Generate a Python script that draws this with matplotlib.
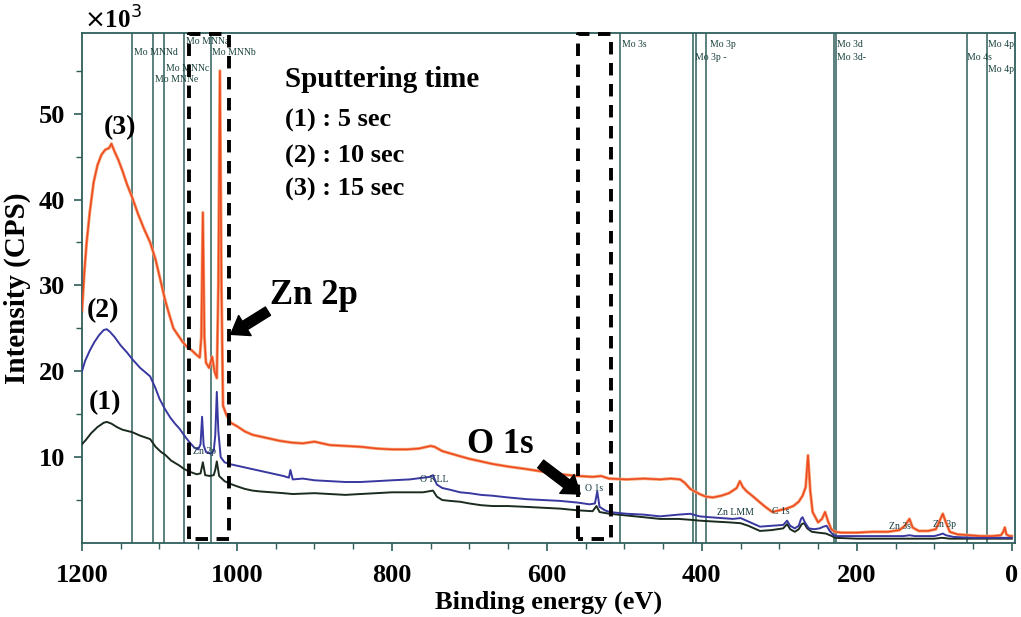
import matplotlib
matplotlib.use("Agg")
import matplotlib.pyplot as plt
from matplotlib.ticker import MultipleLocator

plt.rcParams['font.family'] = ['Liberation Serif', 'DejaVu Serif']

# spectra, binding energy (eV) vs intensity (x10^3 CPS)
e3 = [1200, 1197, 1194, 1190, 1185, 1180, 1175, 1170, 1165, 1162, 1158, 1153, 1148, 1142, 1135,
      1128, 1120, 1112, 1105, 1099, 1093, 1088, 1082, 1076, 1070, 1064, 1058, 1052, 1048, 1046,
      1044, 1042, 1040, 1036, 1032, 1029, 1026, 1024, 1022, 1020, 1018, 1014, 1008, 1000, 990,
      980, 970, 960, 945, 930, 915, 900, 880, 860, 840, 820, 800, 780, 765, 750, 745, 735, 720,
      712, 700, 685, 670, 650, 626, 605, 583, 560, 541, 530, 520, 497, 475, 454, 440, 428, 422,
      415, 403, 395, 386, 375, 365, 355, 351, 347, 342, 335, 326, 318, 309, 300, 291, 282, 275,
      270, 266, 263, 260, 257, 250, 245, 241, 237, 233, 228, 220, 200, 180, 160, 145, 138, 132,
      128, 120, 108, 98, 93, 89, 85, 80, 70, 55, 40, 25, 14, 11, 9, 7, 3, 0]
i3 = [27.0, 31.5, 35.0, 38.5, 42.0, 44.0, 45.2, 45.8, 46.0, 46.5, 45.6, 44.6, 43.4, 41.8, 40.2,
      38.4, 36.6, 35.0, 33.0, 30.7, 28.4, 26.8, 25.0, 24.2, 23.4, 22.8, 22.4, 21.9, 21.6, 24.0,
      38.5, 24.0, 21.0, 20.4, 21.7, 20.0, 19.2, 30.0, 55.0, 30.0, 16.0, 15.0, 14.0, 13.6, 13.0,
      12.6, 12.4, 12.2, 11.9, 11.7, 11.6, 11.8, 11.4, 11.3, 11.2, 11.0, 10.9, 10.9, 11.0, 11.3,
      11.2, 10.7, 10.3, 10.1, 9.8, 9.5, 9.2, 8.9, 8.6, 8.3, 8.0, 7.8, 7.7, 7.8, 7.5, 7.4, 7.5,
      7.4, 7.5, 7.4, 7.0, 6.3, 5.7, 5.4, 5.3, 5.5, 5.8, 6.4, 7.2, 6.5, 6.0, 5.5, 4.8, 4.2, 3.6,
      3.8, 4.0, 4.3, 4.8, 5.5, 6.5, 10.2, 6.0, 3.6, 2.4, 2.8, 3.6, 2.5, 1.6, 1.3, 1.2, 1.2, 1.3,
      1.3, 1.5, 2.0, 2.8, 1.8, 1.4, 1.4, 1.6, 2.6, 3.4, 2.4, 1.3, 1.0, 0.9, 0.8, 0.8, 0.9, 1.3,
      1.8, 1.0, 0.8, 0.8]

e2 = [1200, 1196, 1190, 1184, 1178, 1172, 1168, 1164, 1158, 1150, 1142, 1135, 1125, 1112, 1105,
      1100, 1093, 1086, 1080, 1074, 1067, 1061, 1055, 1050, 1047, 1045, 1043, 1040, 1034, 1030,
      1028, 1026, 1024, 1021, 1016, 1010, 1000, 990, 980, 970, 960, 950, 940, 933, 931, 928, 915,
      900, 880, 860, 841, 820, 800, 777, 760, 751, 747, 742, 735, 725, 712, 700, 685, 670, 650,
      626, 605, 583, 560, 545, 538, 535, 532, 525, 519, 508, 497, 475, 454, 430, 415, 403, 390,
      375, 360, 350, 340, 325, 310, 295, 290, 286, 280, 275, 272, 270, 267, 262, 255, 248, 243,
      239, 235, 230, 225, 200, 170, 140, 132, 125, 100, 92, 89, 85, 75, 50, 25, 10, 0]
i2 = [20.0, 21.2, 22.4, 23.4, 24.2, 24.8, 24.9, 24.6, 24.0, 23.0, 22.2, 21.4, 20.4, 19.4, 18.0,
      16.8, 15.6, 14.6, 13.9, 13.3, 12.4, 11.7, 11.1, 10.9, 11.5, 14.7, 11.4, 10.6, 10.4, 10.7,
      12.5, 17.6, 13.0, 10.0, 9.4, 9.2, 9.0, 8.8, 8.6, 8.4, 8.2, 8.0, 7.8, 7.6, 8.5, 7.4, 7.5,
      7.3, 7.2, 7.1, 7.1, 7.2, 7.3, 7.4, 7.6, 7.7, 7.9, 6.8, 6.4, 6.2, 5.9, 5.8, 5.6, 5.5, 5.3,
      5.1, 5.0, 4.9, 4.7, 4.5, 4.6, 6.0, 4.2, 3.8, 3.6, 3.5, 3.4, 3.3, 3.1, 3.3, 3.4, 3.1, 3.0,
      2.9, 2.8, 2.9, 2.5, 1.9, 2.0, 2.1, 2.6, 2.0, 1.7, 2.0, 2.8, 3.0, 2.4, 1.7, 1.6, 1.7, 1.9,
      2.0, 1.4, 0.9, 0.8, 0.8, 0.8, 0.8, 0.9, 0.8, 0.8, 1.0, 1.1, 0.9, 0.7, 0.6, 0.6, 0.6, 0.6]

e1 = [1200, 1195, 1188, 1180, 1172, 1168, 1162, 1155, 1148, 1135, 1125, 1112, 1105, 1098, 1093,
      1085, 1074, 1068, 1061, 1052, 1047, 1044, 1041, 1035, 1030, 1028, 1026, 1023, 1016, 1009,
      1000, 990, 980, 970, 955, 940, 928, 900, 880, 860, 841, 820, 800, 777, 760, 747, 742, 735,
      725, 712, 700, 685, 670, 650, 626, 605, 583, 560, 541, 536, 532, 519, 497, 475, 454, 430,
      415, 403, 385, 365, 350, 340, 325, 310, 295, 290, 286, 280, 275, 271, 268, 264, 258, 250,
      240, 232, 228, 200, 150, 100, 90, 80, 50, 25, 0]
i1 = [11.5, 12.0, 12.8, 13.5, 14.0, 14.1, 13.9, 13.5, 13.2, 12.9, 12.5, 12.1, 11.2, 10.6, 10.3,
      9.6, 9.0, 8.6, 8.3, 8.0, 8.1, 9.4, 7.9, 7.8, 7.9, 8.5, 9.5, 7.8, 7.2, 6.9, 6.6, 6.3, 6.1,
      6.0, 5.9, 5.8, 5.7, 5.8, 5.7, 5.6, 5.7, 5.8, 5.9, 5.9, 5.9, 6.1, 5.4, 5.0, 4.9, 4.8, 4.6,
      4.4, 4.3, 4.3, 4.2, 4.1, 4.0, 3.8, 3.7, 4.3, 3.6, 3.4, 3.2, 3.0, 2.8, 2.8, 2.7, 2.6, 2.5,
      2.4, 2.3, 2.0, 1.4, 1.5, 1.7, 2.2, 1.6, 1.3, 1.6, 2.2, 2.3, 1.7, 1.3, 1.2, 1.1, 0.8, 0.6,
      0.5, 0.5, 0.5, 0.6, 0.5, 0.5, 0.5, 0.5]

# reference lines (Mo) and their labels: (text, left edge eV, y)
mo_lines = [1135, 1108, 1094, 1068, 1034, 506, 411, 408, 394, 230, 227, 58, 32]
mo_labels = [("Mo MNNd", 1133, 57.1), ("Mo MNNc", 1092, 55.3), ("Mo MNNe", 1106, 54.0),
             ("Mo MNNa", 1066, 58.4), ("Mo MNNb", 1032, 57.1),
             ("Mo 3s", 503, 58.1), ("Mo 3p", 390, 58.1), ("Mo 3p -", 409, 56.6),
             ("Mo 3d", 225, 58.1), ("Mo 3d-", 225, 56.6), ("Mo 4s", 58, 56.6),
             ("Mo 4p", 31, 58.1), ("Mo 4p", 31, 55.1)]
peak_labels = [("Zn 2p", 1057, 10.6), ("O KLL", 764, 7.4), ("O 1s", 551, 6.3),
               ("Zn LMM", 381, 3.6), ("C 1s", 310, 3.7), ("Zn 3s", 159, 1.9),
               ("Zn 3p", 102, 2.2)]
boxes = [(1062, 1010), (560, 517)]

teal = '#2f5e5a'

fig = plt.figure(figsize=(10.21, 6.17), dpi=100)
ax = fig.add_axes([0.0803, 0.12, 0.9137, 0.8265])

for x in mo_lines:
    ax.axvline(x, color=teal, lw=1.1, zorder=1)
for txt, x, y in mo_labels:
    ax.text(x, y, txt, fontsize=7, color='#163f3b', va='center', ha='left', clip_on=True)

ax.plot(e1, i1, color='#1b2b1f', lw=1.4, zorder=3)
ax.plot(e2, i2, color='#3838a0', lw=1.4, zorder=3)
ax.plot(e3, i3, color='#f5a070', lw=2.2, zorder=2)
ax.plot(e3, i3, color='#ee4a22', lw=1.1, zorder=3)

for txt, x, y in peak_labels:
    ax.text(x, y, txt, fontsize=7, color='#163a40', va='center', ha='left', zorder=4)

for x0, x1 in boxes:
    ax.plot([x0, x0, x1, x1, x0], [0.5, 59.3, 59.3, 0.5, 0.5], color='black', lw=2.8,
            ls=(0, (3.2, 2.2)), zorder=5, clip_on=False)

bold = dict(fontweight='bold', color='black')
ax.text(1151, 48.4, "(3)", fontsize=20, ha='center', va='center', **bold)
ax.text(1173, 27.1, "(2)", fontsize=20, ha='center', va='center', **bold)
ax.text(1170, 16.3, "(1)", fontsize=20, ha='center', va='center', **bold)

ax.text(938, 54.0, "Sputtering time", fontsize=21, ha='left', va='center', **bold)
ax.text(938, 49.2, "(1) : 5 sec", fontsize=19, ha='left', va='center', **bold)
ax.text(938, 45.0, "(2) : 10 sec", fontsize=19, ha='left', va='center', **bold)
ax.text(938, 41.2, "(3) : 15 sec", fontsize=19, ha='left', va='center', **bold)

arrow = dict(facecolor='black', edgecolor='black', width=7, headwidth=17, headlength=12,
             shrink=0.0)
ax.annotate("", xy=(1008, 24.3), xytext=(960, 27.0), arrowprops=arrow, zorder=6)
ax.annotate("", xy=(557, 5.7), xytext=(608, 9.2), arrowprops=arrow, zorder=6)
ax.text(957, 28.8, "Zn 2p", fontsize=25, ha='left', va='center', **bold)
ax.text(703, 11.5, "O 1s", fontsize=25, ha='left', va='center', **bold)

ax.set_xlim(1200, -4)
ax.set_ylim(0, 59.4)
ax.xaxis.set_major_locator(MultipleLocator(200))
ax.xaxis.set_minor_locator(MultipleLocator(50))
ax.set_yticks([10, 20, 30, 40, 50])
ax.set_yticks([5, 15, 25, 35, 45, 55], minor=True)
for s in ax.spines.values():
    s.set_color(teal)
    s.set_linewidth(1.3)
ax.tick_params(which='major', direction='out', length=6, width=1.2, color=teal,
               labelsize=19, pad=6)
ax.tick_params(axis='x', which='major', pad=9)
ax.tick_params(which='minor', direction='out', length=4, width=1.0, color=teal)
for lab in ax.get_xticklabels() + ax.get_yticklabels():
    lab.set_fontweight('bold')

ax.set_xlabel("Binding energy (eV)", fontsize=19, fontweight='bold', labelpad=3)
ax.set_ylabel("Intensity (CPS)", fontsize=21, fontweight='bold', labelpad=6)
fig.text(0.082, 0.968, r"$\times$10$^3$", fontsize=18, fontweight='bold', ha='left', va='center')

fig.savefig("out.png", dpi=100)
